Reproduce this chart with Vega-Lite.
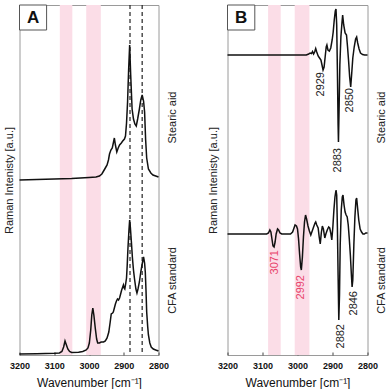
{
"$schema":"https://vega.github.io/schema/vega-lite/v6.json",
"padding":{"left":2.5,"top":3,"right":0,"bottom":0},
"config":{"font":"Liberation Sans","view":{"stroke":"#9a9a9a","strokeWidth":1},"axis":{"grid":false},
"axisX":{"values":[2800,2850,2900,2950,3000,3050,3100,3150,3200],"labelExpr":"datum.value % 100 == 0 ? datum.label : ''","tickSize":-3,"tickColor":"#444","domain":false,"labelFontSize":9,"labelFontWeight":"bold","labelColor":"#111","labelPadding":9.5,"labelFlush":false,"labelOverlap":false,"titleFontSize":12,"titleFontWeight":"normal","titleColor":"#111","titlePadding":7,"format":"d"}},
"datasets":{
"bands":[{"start":3084,"end":3048},{"start":3008,"end":2966}],
"dashes":[{"wn":2882},{"wn":2847}],
"spectra":[
{"panel":"A","sample":"Stearic aid","wn":3200,"val":175},{"panel":"A","sample":"Stearic aid","wn":3150,"val":175.5},{"panel":"A","sample":"Stearic aid","wn":3100,"val":176},{"panel":"A","sample":"Stearic aid","wn":3050,"val":176.5},{"panel":"A","sample":"Stearic aid","wn":3000,"val":177.5},{"panel":"A","sample":"Stearic aid","wn":2980,"val":178},{"panel":"A","sample":"Stearic aid","wn":2970,"val":179},{"panel":"A","sample":"Stearic aid","wn":2963,"val":181},{"panel":"A","sample":"Stearic aid","wn":2958,"val":184},{"panel":"A","sample":"Stearic aid","wn":2953,"val":187},{"panel":"A","sample":"Stearic aid","wn":2948,"val":190},{"panel":"A","sample":"Stearic aid","wn":2944,"val":195},{"panel":"A","sample":"Stearic aid","wn":2941,"val":201},{"panel":"A","sample":"Stearic aid","wn":2937,"val":205},{"panel":"A","sample":"Stearic aid","wn":2933,"val":207},{"panel":"A","sample":"Stearic aid","wn":2930,"val":212},{"panel":"A","sample":"Stearic aid","wn":2927,"val":217},{"panel":"A","sample":"Stearic aid","wn":2924,"val":210},{"panel":"A","sample":"Stearic aid","wn":2920,"val":203},{"panel":"A","sample":"Stearic aid","wn":2916,"val":207},{"panel":"A","sample":"Stearic aid","wn":2912,"val":210},{"panel":"A","sample":"Stearic aid","wn":2907,"val":212},{"panel":"A","sample":"Stearic aid","wn":2903,"val":214},{"panel":"A","sample":"Stearic aid","wn":2898,"val":216},{"panel":"A","sample":"Stearic aid","wn":2895,"val":219},{"panel":"A","sample":"Stearic aid","wn":2892,"val":232},{"panel":"A","sample":"Stearic aid","wn":2889,"val":253},{"panel":"A","sample":"Stearic aid","wn":2886,"val":285},{"panel":"A","sample":"Stearic aid","wn":2883,"val":310},{"panel":"A","sample":"Stearic aid","wn":2880,"val":280},{"panel":"A","sample":"Stearic aid","wn":2876,"val":246},{"panel":"A","sample":"Stearic aid","wn":2872,"val":236},{"panel":"A","sample":"Stearic aid","wn":2868,"val":231},{"panel":"A","sample":"Stearic aid","wn":2864,"val":229},{"panel":"A","sample":"Stearic aid","wn":2860,"val":236},{"panel":"A","sample":"Stearic aid","wn":2855,"val":246},{"panel":"A","sample":"Stearic aid","wn":2851,"val":255},{"panel":"A","sample":"Stearic aid","wn":2847,"val":260},{"panel":"A","sample":"Stearic aid","wn":2843,"val":254},{"panel":"A","sample":"Stearic aid","wn":2840,"val":243},{"panel":"A","sample":"Stearic aid","wn":2837,"val":215},{"panel":"A","sample":"Stearic aid","wn":2834,"val":197},{"panel":"A","sample":"Stearic aid","wn":2829,"val":186},{"panel":"A","sample":"Stearic aid","wn":2822,"val":182},{"panel":"A","sample":"Stearic aid","wn":2816,"val":180},{"panel":"A","sample":"Stearic aid","wn":2808,"val":179},{"panel":"A","sample":"Stearic aid","wn":2800,"val":178},
{"panel":"A","sample":"CFA standard","wn":3200,"val":1},{"panel":"A","sample":"CFA standard","wn":3150,"val":1.3},{"panel":"A","sample":"CFA standard","wn":3100,"val":1.7},{"panel":"A","sample":"CFA standard","wn":3085,"val":2},{"panel":"A","sample":"CFA standard","wn":3078,"val":3.5},{"panel":"A","sample":"CFA standard","wn":3073,"val":8},{"panel":"A","sample":"CFA standard","wn":3069,"val":14},{"panel":"A","sample":"CFA standard","wn":3065,"val":10},{"panel":"A","sample":"CFA standard","wn":3061,"val":6},{"panel":"A","sample":"CFA standard","wn":3056,"val":3.5},{"panel":"A","sample":"CFA standard","wn":3050,"val":2.5},{"panel":"A","sample":"CFA standard","wn":3030,"val":2.8},{"panel":"A","sample":"CFA standard","wn":3018,"val":3.5},{"panel":"A","sample":"CFA standard","wn":3008,"val":5},{"panel":"A","sample":"CFA standard","wn":3003,"val":7},{"panel":"A","sample":"CFA standard","wn":2999,"val":12},{"panel":"A","sample":"CFA standard","wn":2995,"val":25},{"panel":"A","sample":"CFA standard","wn":2992,"val":40},{"panel":"A","sample":"CFA standard","wn":2989,"val":47},{"panel":"A","sample":"CFA standard","wn":2986,"val":40},{"panel":"A","sample":"CFA standard","wn":2982,"val":27},{"panel":"A","sample":"CFA standard","wn":2978,"val":16},{"panel":"A","sample":"CFA standard","wn":2975,"val":12},{"panel":"A","sample":"CFA standard","wn":2970,"val":12},{"panel":"A","sample":"CFA standard","wn":2965,"val":13},{"panel":"A","sample":"CFA standard","wn":2958,"val":13},{"panel":"A","sample":"CFA standard","wn":2953,"val":14},{"panel":"A","sample":"CFA standard","wn":2948,"val":17},{"panel":"A","sample":"CFA standard","wn":2943,"val":23},{"panel":"A","sample":"CFA standard","wn":2939,"val":33},{"panel":"A","sample":"CFA standard","wn":2936,"val":41},{"panel":"A","sample":"CFA standard","wn":2932,"val":42},{"panel":"A","sample":"CFA standard","wn":2930,"val":43},{"panel":"A","sample":"CFA standard","wn":2927,"val":47},{"panel":"A","sample":"CFA standard","wn":2924,"val":51},{"panel":"A","sample":"CFA standard","wn":2921,"val":54},{"panel":"A","sample":"CFA standard","wn":2918,"val":56},{"panel":"A","sample":"CFA standard","wn":2915,"val":55},{"panel":"A","sample":"CFA standard","wn":2912,"val":57},{"panel":"A","sample":"CFA standard","wn":2909,"val":61},{"panel":"A","sample":"CFA standard","wn":2906,"val":65},{"panel":"A","sample":"CFA standard","wn":2903,"val":68},{"panel":"A","sample":"CFA standard","wn":2901,"val":70},{"panel":"A","sample":"CFA standard","wn":2899,"val":67},{"panel":"A","sample":"CFA standard","wn":2897,"val":66},{"panel":"A","sample":"CFA standard","wn":2895,"val":70},{"panel":"A","sample":"CFA standard","wn":2892,"val":77},{"panel":"A","sample":"CFA standard","wn":2890,"val":90},{"panel":"A","sample":"CFA standard","wn":2888,"val":106},{"panel":"A","sample":"CFA standard","wn":2885,"val":125},{"panel":"A","sample":"CFA standard","wn":2883,"val":135},{"panel":"A","sample":"CFA standard","wn":2881,"val":128},{"panel":"A","sample":"CFA standard","wn":2878,"val":113},{"panel":"A","sample":"CFA standard","wn":2875,"val":97},{"panel":"A","sample":"CFA standard","wn":2872,"val":85},{"panel":"A","sample":"CFA standard","wn":2869,"val":76},{"panel":"A","sample":"CFA standard","wn":2865,"val":66},{"panel":"A","sample":"CFA standard","wn":2862,"val":62},{"panel":"A","sample":"CFA standard","wn":2859,"val":66},{"panel":"A","sample":"CFA standard","wn":2855,"val":73},{"panel":"A","sample":"CFA standard","wn":2851,"val":83},{"panel":"A","sample":"CFA standard","wn":2847,"val":91},{"panel":"A","sample":"CFA standard","wn":2843,"val":98},{"panel":"A","sample":"CFA standard","wn":2840,"val":92},{"panel":"A","sample":"CFA standard","wn":2838,"val":83},{"panel":"A","sample":"CFA standard","wn":2836,"val":65},{"panel":"A","sample":"CFA standard","wn":2834,"val":43},{"panel":"A","sample":"CFA standard","wn":2831,"val":28},{"panel":"A","sample":"CFA standard","wn":2829,"val":20},{"panel":"A","sample":"CFA standard","wn":2825,"val":12},{"panel":"A","sample":"CFA standard","wn":2821,"val":8},{"panel":"A","sample":"CFA standard","wn":2815,"val":6},{"panel":"A","sample":"CFA standard","wn":2808,"val":5},{"panel":"A","sample":"CFA standard","wn":2800,"val":4},
{"panel":"B","sample":"Stearic aid","wn":3200,"val":300},{"panel":"B","sample":"Stearic aid","wn":3100,"val":300},{"panel":"B","sample":"Stearic aid","wn":3000,"val":300},{"panel":"B","sample":"Stearic aid","wn":2975,"val":300},{"panel":"B","sample":"Stearic aid","wn":2968,"val":301},{"panel":"B","sample":"Stearic aid","wn":2964,"val":302},{"panel":"B","sample":"Stearic aid","wn":2960,"val":301.5},{"panel":"B","sample":"Stearic aid","wn":2957,"val":303.5},{"panel":"B","sample":"Stearic aid","wn":2954,"val":301},{"panel":"B","sample":"Stearic aid","wn":2951,"val":303},{"panel":"B","sample":"Stearic aid","wn":2948,"val":306.5},{"panel":"B","sample":"Stearic aid","wn":2945,"val":303},{"panel":"B","sample":"Stearic aid","wn":2941,"val":299},{"panel":"B","sample":"Stearic aid","wn":2937,"val":297},{"panel":"B","sample":"Stearic aid","wn":2933,"val":295},{"panel":"B","sample":"Stearic aid","wn":2930,"val":290},{"panel":"B","sample":"Stearic aid","wn":2927,"val":285},{"panel":"B","sample":"Stearic aid","wn":2924,"val":288},{"panel":"B","sample":"Stearic aid","wn":2921,"val":298},{"panel":"B","sample":"Stearic aid","wn":2918,"val":308},{"panel":"B","sample":"Stearic aid","wn":2916,"val":310},{"panel":"B","sample":"Stearic aid","wn":2913,"val":305},{"panel":"B","sample":"Stearic aid","wn":2909,"val":304},{"panel":"B","sample":"Stearic aid","wn":2905,"val":307},{"panel":"B","sample":"Stearic aid","wn":2901,"val":315},{"panel":"B","sample":"Stearic aid","wn":2898,"val":323},{"panel":"B","sample":"Stearic aid","wn":2895,"val":335},{"panel":"B","sample":"Stearic aid","wn":2892,"val":344},{"panel":"B","sample":"Stearic aid","wn":2890,"val":346},{"panel":"B","sample":"Stearic aid","wn":2888,"val":330},{"panel":"B","sample":"Stearic aid","wn":2886,"val":285},{"panel":"B","sample":"Stearic aid","wn":2884,"val":230},{"panel":"B","sample":"Stearic aid","wn":2883,"val":213},{"panel":"B","sample":"Stearic aid","wn":2881,"val":250},{"panel":"B","sample":"Stearic aid","wn":2879,"val":290},{"panel":"B","sample":"Stearic aid","wn":2876,"val":318},{"panel":"B","sample":"Stearic aid","wn":2873,"val":332},{"panel":"B","sample":"Stearic aid","wn":2871,"val":340},{"panel":"B","sample":"Stearic aid","wn":2868,"val":330},{"panel":"B","sample":"Stearic aid","wn":2864,"val":322},{"panel":"B","sample":"Stearic aid","wn":2860,"val":320},{"panel":"B","sample":"Stearic aid","wn":2857,"val":308},{"panel":"B","sample":"Stearic aid","wn":2854,"val":294},{"panel":"B","sample":"Stearic aid","wn":2851,"val":278},{"panel":"B","sample":"Stearic aid","wn":2848,"val":268},{"panel":"B","sample":"Stearic aid","wn":2845,"val":282},{"panel":"B","sample":"Stearic aid","wn":2842,"val":297},{"panel":"B","sample":"Stearic aid","wn":2838,"val":308},{"panel":"B","sample":"Stearic aid","wn":2834,"val":316},{"panel":"B","sample":"Stearic aid","wn":2831,"val":318},{"panel":"B","sample":"Stearic aid","wn":2828,"val":312},{"panel":"B","sample":"Stearic aid","wn":2824,"val":306},{"panel":"B","sample":"Stearic aid","wn":2820,"val":302},{"panel":"B","sample":"Stearic aid","wn":2814,"val":300.5},{"panel":"B","sample":"Stearic aid","wn":2808,"val":300},{"panel":"B","sample":"Stearic aid","wn":2800,"val":300},
{"panel":"B","sample":"CFA standard","wn":3200,"val":121},{"panel":"B","sample":"CFA standard","wn":3150,"val":121},{"panel":"B","sample":"CFA standard","wn":3100,"val":121},{"panel":"B","sample":"CFA standard","wn":3088,"val":121},{"panel":"B","sample":"CFA standard","wn":3083,"val":122},{"panel":"B","sample":"CFA standard","wn":3079,"val":125},{"panel":"B","sample":"CFA standard","wn":3076,"val":123},{"panel":"B","sample":"CFA standard","wn":3073,"val":116},{"panel":"B","sample":"CFA standard","wn":3070,"val":109},{"panel":"B","sample":"CFA standard","wn":3067,"val":108},{"panel":"B","sample":"CFA standard","wn":3064,"val":113},{"panel":"B","sample":"CFA standard","wn":3061,"val":121},{"panel":"B","sample":"CFA standard","wn":3057,"val":126},{"panel":"B","sample":"CFA standard","wn":3054,"val":125},{"panel":"B","sample":"CFA standard","wn":3050,"val":122},{"panel":"B","sample":"CFA standard","wn":3045,"val":121},{"panel":"B","sample":"CFA standard","wn":3030,"val":121},{"panel":"B","sample":"CFA standard","wn":3020,"val":121},{"panel":"B","sample":"CFA standard","wn":3014,"val":123},{"panel":"B","sample":"CFA standard","wn":3010,"val":127},{"panel":"B","sample":"CFA standard","wn":3007,"val":130},{"panel":"B","sample":"CFA standard","wn":3003,"val":129},{"panel":"B","sample":"CFA standard","wn":3000,"val":126},{"panel":"B","sample":"CFA standard","wn":2997,"val":116},{"panel":"B","sample":"CFA standard","wn":2994,"val":101},{"panel":"B","sample":"CFA standard","wn":2991,"val":88},{"panel":"B","sample":"CFA standard","wn":2989,"val":85},{"panel":"B","sample":"CFA standard","wn":2986,"val":98},{"panel":"B","sample":"CFA standard","wn":2983,"val":118},{"panel":"B","sample":"CFA standard","wn":2980,"val":133},{"panel":"B","sample":"CFA standard","wn":2977,"val":140},{"panel":"B","sample":"CFA standard","wn":2974,"val":136},{"panel":"B","sample":"CFA standard","wn":2970,"val":129},{"panel":"B","sample":"CFA standard","wn":2966,"val":124},{"panel":"B","sample":"CFA standard","wn":2962,"val":120},{"panel":"B","sample":"CFA standard","wn":2958,"val":124},{"panel":"B","sample":"CFA standard","wn":2954,"val":128},{"panel":"B","sample":"CFA standard","wn":2950,"val":132},{"panel":"B","sample":"CFA standard","wn":2948,"val":133},{"panel":"B","sample":"CFA standard","wn":2945,"val":130},{"panel":"B","sample":"CFA standard","wn":2941,"val":127},{"panel":"B","sample":"CFA standard","wn":2938,"val":118},{"panel":"B","sample":"CFA standard","wn":2935,"val":111},{"panel":"B","sample":"CFA standard","wn":2932,"val":122},{"panel":"B","sample":"CFA standard","wn":2929,"val":129},{"panel":"B","sample":"CFA standard","wn":2926,"val":126},{"panel":"B","sample":"CFA standard","wn":2922,"val":117},{"panel":"B","sample":"CFA standard","wn":2919,"val":121},{"panel":"B","sample":"CFA standard","wn":2915,"val":125},{"panel":"B","sample":"CFA standard","wn":2911,"val":128},{"panel":"B","sample":"CFA standard","wn":2908,"val":127},{"panel":"B","sample":"CFA standard","wn":2905,"val":122},{"panel":"B","sample":"CFA standard","wn":2902,"val":115},{"panel":"B","sample":"CFA standard","wn":2899,"val":128},{"panel":"B","sample":"CFA standard","wn":2896,"val":145},{"panel":"B","sample":"CFA standard","wn":2893,"val":158},{"panel":"B","sample":"CFA standard","wn":2890,"val":165},{"panel":"B","sample":"CFA standard","wn":2888,"val":160},{"panel":"B","sample":"CFA standard","wn":2886,"val":128},{"panel":"B","sample":"CFA standard","wn":2884,"val":80},{"panel":"B","sample":"CFA standard","wn":2882,"val":35},{"panel":"B","sample":"CFA standard","wn":2880,"val":60},{"panel":"B","sample":"CFA standard","wn":2878,"val":110},{"panel":"B","sample":"CFA standard","wn":2875,"val":145},{"panel":"B","sample":"CFA standard","wn":2872,"val":158},{"panel":"B","sample":"CFA standard","wn":2870,"val":160},{"panel":"B","sample":"CFA standard","wn":2867,"val":150},{"panel":"B","sample":"CFA standard","wn":2864,"val":143},{"panel":"B","sample":"CFA standard","wn":2861,"val":140},{"panel":"B","sample":"CFA standard","wn":2858,"val":138},{"panel":"B","sample":"CFA standard","wn":2855,"val":130},{"panel":"B","sample":"CFA standard","wn":2852,"val":116},{"panel":"B","sample":"CFA standard","wn":2849,"val":100},{"panel":"B","sample":"CFA standard","wn":2846,"val":80},{"panel":"B","sample":"CFA standard","wn":2844,"val":68},{"panel":"B","sample":"CFA standard","wn":2842,"val":75},{"panel":"B","sample":"CFA standard","wn":2839,"val":110},{"panel":"B","sample":"CFA standard","wn":2836,"val":138},{"panel":"B","sample":"CFA standard","wn":2833,"val":155},{"panel":"B","sample":"CFA standard","wn":2831,"val":157},{"panel":"B","sample":"CFA standard","wn":2828,"val":146},{"panel":"B","sample":"CFA standard","wn":2825,"val":135},{"panel":"B","sample":"CFA standard","wn":2821,"val":126},{"panel":"B","sample":"CFA standard","wn":2817,"val":123},{"panel":"B","sample":"CFA standard","wn":2813,"val":121},{"panel":"B","sample":"CFA standard","wn":2809,"val":121},{"panel":"B","sample":"CFA standard","wn":2805,"val":122},{"panel":"B","sample":"CFA standard","wn":2800,"val":122}
],
"peaks":[
{"label":"2929","wn":2934,"val":283,"kind":"shared"},
{"label":"2850","wn":2849,"val":267,"kind":"shared"},
{"label":"2883","wn":2883,"val":207,"kind":"shared"},
{"label":"3071","wn":3063,"val":105,"kind":"CFA-specific"},
{"label":"2992","wn":2990,"val":80,"kind":"CFA-specific"},
{"label":"2846","wn":2838,"val":64,"kind":"shared"},
{"label":"2882","wn":2877,"val":31,"kind":"shared"}
]
},
"spacing":28,
"hconcat":[
{"width":139,"height":350,
"layer":[
{"data":{"name":"bands"},"mark":{"type":"rect","color":"#fbdde7"},"encoding":{"x":{"field":"start","type":"quantitative","scale":{"domain":[2800,3200],"reverse":true,"nice":false,"zero":false},"title":"Wavenumber [cm⁻¹]"},"x2":{"field":"end"}}},
{"data":{"name":"dashes"},"mark":{"type":"rule","strokeDash":[4,3],"color":"#222","strokeWidth":1.2},"encoding":{"x":{"field":"wn","type":"quantitative"}}},
{"data":{"name":"spectra"},"transform":[{"filter":"datum.panel == 'A' && datum.sample == 'Stearic aid'"}],"mark":{"type":"line","color":"#111","strokeWidth":1.5},"encoding":{"x":{"field":"wn","type":"quantitative"},"y":{"field":"val","type":"quantitative","scale":{"domain":[0,350],"nice":false,"zero":false},"axis":{"orient":"left","title":"Raman Intenisty [a.u.]","labels":false,"ticks":false,"domain":false,"titleFontSize":11,"titleFontWeight":"normal","titleColor":"#222","titlePadding":5.5}}}},
{"data":{"name":"spectra"},"transform":[{"filter":"datum.panel == 'A' && datum.sample == 'CFA standard'"}],"mark":{"type":"line","color":"#111","strokeWidth":1.5},"encoding":{"x":{"field":"wn","type":"quantitative"},"y":{"field":"val","type":"quantitative","scale":{"domain":[0,350],"nice":false,"zero":false},"axis":{"orient":"right","title":null,"values":[75,238],"labelExpr":"datum.value > 150 ? 'Stearic aid' : 'CFA standard'","labelAngle":270,"labelAlign":"center","labelBaseline":"top","ticks":false,"domain":false,"labelFontSize":11,"labelColor":"#222","labelPadding":8}}}},
{"data":{"values":[{"letter":"A"}]},"mark":{"type":"rect","fill":"white","stroke":"#555","strokeWidth":1},"encoding":{"x":{"datum":3200,"type":"quantitative"},"x2":{"datum":3122},"y":{"datum":350,"type":"quantitative","axis":null},"y2":{"datum":325}}},
{"data":{"values":[{"letter":"A"}]},"mark":{"type":"text","fontSize":17,"fontWeight":"bold","color":"#111","baseline":"middle","align":"center"},"encoding":{"x":{"datum":3161,"type":"quantitative"},"y":{"datum":337.5,"type":"quantitative","axis":null},"text":{"field":"letter"}}}
],
"resolve":{"axis":{"y":"independent"}}
},
{"width":140,"height":350,
"layer":[
{"data":{"name":"bands"},"mark":{"type":"rect","color":"#fbdde7"},"encoding":{"x":{"field":"start","type":"quantitative","scale":{"domain":[2800,3200],"reverse":true,"nice":false,"zero":false},"title":"Wavenumber [cm⁻¹]"},"x2":{"field":"end"}}},
{"data":{"name":"spectra"},"transform":[{"filter":"datum.panel == 'B' && datum.sample == 'Stearic aid'"}],"mark":{"type":"line","color":"#111","strokeWidth":1.5},"encoding":{"x":{"field":"wn","type":"quantitative"},"y":{"field":"val","type":"quantitative","scale":{"domain":[0,350],"nice":false,"zero":false},"axis":{"orient":"left","title":"Raman Intenisty [a.u.]","labels":false,"ticks":false,"domain":false,"titleFontSize":11,"titleFontWeight":"normal","titleColor":"#222","titlePadding":9.5}}}},
{"data":{"name":"spectra"},"transform":[{"filter":"datum.panel == 'B' && datum.sample == 'CFA standard'"}],"mark":{"type":"line","color":"#111","strokeWidth":1.5},"encoding":{"x":{"field":"wn","type":"quantitative"},"y":{"field":"val","type":"quantitative","scale":{"domain":[0,350],"nice":false,"zero":false},"axis":{"orient":"right","title":null,"values":[75,238],"labelExpr":"datum.value > 150 ? 'Stearic aid' : 'CFA standard'","labelAngle":270,"labelAlign":"center","labelBaseline":"top","ticks":false,"domain":false,"labelFontSize":11,"labelColor":"#222","labelPadding":8}}}},
{"data":{"name":"peaks"},"mark":{"type":"text","angle":270,"align":"right","baseline":"middle","fontSize":11},"encoding":{"x":{"field":"wn","type":"quantitative"},"y":{"field":"val","type":"quantitative","scale":{"domain":[0,350],"nice":false,"zero":false},"axis":null},"text":{"field":"label"},"color":{"field":"kind","type":"nominal","scale":{"domain":["shared","CFA-specific"],"range":["#222222","#e8426a"]},"legend":null}}},
{"data":{"values":[{"letter":"B"}]},"mark":{"type":"rect","fill":"white","stroke":"#555","strokeWidth":1},"encoding":{"x":{"datum":3200,"type":"quantitative"},"x2":{"datum":3122},"y":{"datum":350,"type":"quantitative","axis":null},"y2":{"datum":325}}},
{"data":{"values":[{"letter":"B"}]},"mark":{"type":"text","fontSize":17,"fontWeight":"bold","color":"#111","baseline":"middle","align":"center"},"encoding":{"x":{"datum":3161,"type":"quantitative"},"y":{"datum":337.5,"type":"quantitative","axis":null},"text":{"field":"letter"}}}
],
"resolve":{"axis":{"y":"independent"}}
}
]
}
